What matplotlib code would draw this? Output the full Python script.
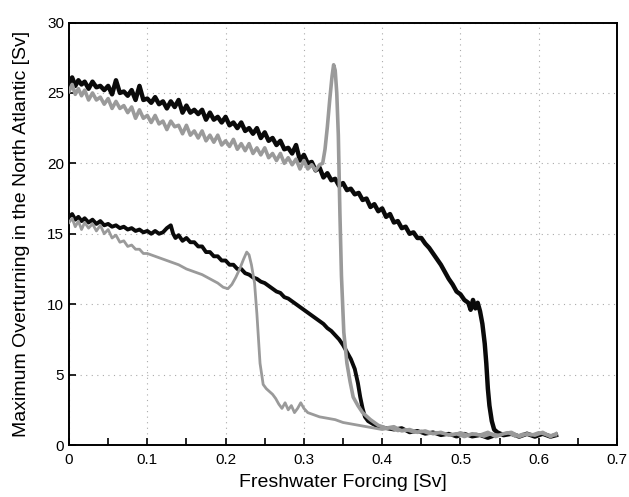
import matplotlib
matplotlib.use("Agg")
import matplotlib.pyplot as plt
from matplotlib.ticker import MultipleLocator

plt.rcParams['font.family'] = ['Liberation Sans', 'DejaVu Sans']

# ---- data ----
bu_x = [0.000, 0.004, 0.008, 0.012, 0.016, 0.020, 0.025, 0.030, 0.035, 0.040, 0.045, 0.050, 0.055, 0.060,
        0.065, 0.070, 0.075, 0.080, 0.085, 0.090, 0.095, 0.100, 0.105, 0.110, 0.115, 0.120, 0.125, 0.130,
        0.135, 0.140, 0.145, 0.150, 0.155, 0.160, 0.165, 0.170, 0.175, 0.180, 0.185, 0.190, 0.195, 0.200,
        0.205, 0.210, 0.215, 0.220, 0.225, 0.230, 0.235, 0.240, 0.245, 0.250, 0.255, 0.260, 0.265, 0.270,
        0.275, 0.280, 0.285, 0.290, 0.295, 0.300, 0.305, 0.310, 0.315, 0.320, 0.325, 0.330, 0.335, 0.340,
        0.345, 0.350, 0.355, 0.360, 0.365, 0.370, 0.375, 0.380, 0.385, 0.390, 0.395, 0.400, 0.405, 0.410,
        0.415, 0.420, 0.425, 0.430, 0.435, 0.440, 0.445, 0.450, 0.455, 0.460, 0.465, 0.470, 0.475, 0.480,
        0.485, 0.490, 0.495, 0.500, 0.505, 0.510, 0.513, 0.516, 0.519, 0.522, 0.525, 0.528, 0.531, 0.533,
        0.535, 0.537, 0.540, 0.543, 0.547, 0.555, 0.565, 0.575, 0.585, 0.595, 0.605, 0.615, 0.622]
bu_y = [25.7, 26.1, 25.5, 25.9, 25.6, 25.8, 25.3, 25.8, 25.4, 25.5, 25.2, 25.5, 24.9, 25.9,
        25.0, 25.1, 24.8, 25.2, 24.5, 25.5, 24.5, 24.6, 24.3, 24.7, 24.2, 24.4, 23.9, 24.4,
        24.0, 24.5, 23.6, 24.1, 23.6, 23.8, 23.5, 23.8, 23.1, 23.6, 23.1, 23.3, 22.9, 23.3,
        22.7, 22.9, 22.5, 22.9, 22.3, 22.5, 22.1, 22.5, 21.8, 22.2, 21.6, 21.8, 21.3, 21.6,
        21.0, 21.1, 20.7, 21.3, 20.2, 20.6, 20.0, 20.1, 19.5, 19.7, 19.0, 19.3, 18.8, 18.9,
        18.4, 18.6, 18.1, 18.2, 17.8, 17.9, 17.4, 17.5, 16.9, 17.1, 16.6, 16.8, 16.2, 16.4,
        15.8, 15.9, 15.4, 15.5, 15.0, 15.1, 14.7, 14.7, 14.3, 14.0, 13.6, 13.2, 12.8, 12.3,
        11.8, 11.4, 10.9, 10.7, 10.3, 10.1, 9.6, 10.3, 9.7, 10.1, 9.5, 8.6, 7.2, 5.8,
        4.0, 2.8, 1.7, 1.1, 0.9, 0.7, 0.8, 0.6, 0.8, 0.6, 0.8, 0.6, 0.7]

gu_x = [0.000, 0.004, 0.008, 0.012, 0.016, 0.020, 0.025, 0.030, 0.035, 0.040, 0.045, 0.050, 0.055, 0.060,
        0.065, 0.070, 0.075, 0.080, 0.085, 0.090, 0.095, 0.100, 0.105, 0.110, 0.115, 0.120, 0.125, 0.130,
        0.135, 0.140, 0.145, 0.150, 0.155, 0.160, 0.165, 0.170, 0.175, 0.180, 0.185, 0.190, 0.195, 0.200,
        0.205, 0.210, 0.215, 0.220, 0.225, 0.230, 0.235, 0.240, 0.245, 0.250, 0.255, 0.260, 0.265, 0.270,
        0.275, 0.280, 0.285, 0.290, 0.295, 0.300, 0.305, 0.310, 0.315, 0.320, 0.324, 0.327, 0.330, 0.333,
        0.336, 0.338, 0.340, 0.342, 0.344, 0.346, 0.348, 0.351, 0.355, 0.359, 0.363, 0.369, 0.375, 0.385,
        0.395, 0.405, 0.415, 0.425, 0.435, 0.445, 0.455, 0.465, 0.475, 0.485, 0.495, 0.505, 0.515, 0.525,
        0.535, 0.545, 0.555, 0.565, 0.575, 0.585, 0.595, 0.605, 0.615, 0.622]
gu_y = [25.1, 25.6, 24.9, 25.3, 24.8, 25.2, 24.5, 25.0, 24.5, 24.7, 24.2, 24.6, 23.9, 24.4,
        23.9, 24.1, 23.6, 24.0, 23.2, 23.8, 23.2, 23.4, 22.9, 23.4, 22.8, 23.0, 22.4, 23.0,
        22.6, 22.7, 22.1, 22.7, 22.0, 22.3, 21.8, 22.3, 21.6, 22.0, 21.5, 22.0, 21.3, 21.6,
        21.2, 21.7, 21.0, 21.4, 20.9, 21.4, 20.7, 21.1, 20.6, 21.1, 20.4, 20.7, 20.2, 20.7,
        20.0, 20.4, 19.9, 20.3, 19.6, 20.2, 19.6, 19.9, 19.5, 19.9, 20.0, 21.0, 22.6, 24.5,
        26.2, 27.0, 26.6, 25.0, 22.0, 16.5, 12.0, 8.0, 5.8, 4.5, 3.4, 2.8, 2.3, 1.8,
        1.4, 1.2, 1.3, 1.0, 1.1, 0.9, 1.0, 0.8, 0.9, 0.7, 0.8, 0.6, 0.8, 0.7,
        0.9, 0.6, 0.8, 0.9, 0.6, 0.8, 0.7, 0.9, 0.6, 0.8]

bl_x = [0.000, 0.004, 0.008, 0.012, 0.016, 0.020, 0.025, 0.030, 0.035, 0.040, 0.045, 0.050, 0.055, 0.060,
        0.065, 0.070, 0.075, 0.080, 0.085, 0.090, 0.095, 0.100, 0.105, 0.110, 0.115, 0.120, 0.125, 0.130,
        0.133, 0.136, 0.140, 0.145, 0.150, 0.155, 0.160, 0.165, 0.170, 0.175, 0.180, 0.185, 0.190, 0.195,
        0.200, 0.205, 0.210, 0.215, 0.220, 0.225, 0.230, 0.235, 0.240, 0.245, 0.250, 0.255, 0.260, 0.265,
        0.270, 0.275, 0.280, 0.285, 0.290, 0.295, 0.300, 0.305, 0.310, 0.315, 0.320, 0.325, 0.330, 0.335,
        0.340, 0.345, 0.350, 0.355, 0.360, 0.365, 0.369, 0.372, 0.375, 0.378, 0.382, 0.388, 0.395, 0.405,
        0.415, 0.425, 0.435, 0.445, 0.455, 0.465, 0.475, 0.485, 0.495, 0.505, 0.515, 0.525, 0.535, 0.545]
bl_y = [16.2, 16.4, 16.0, 16.2, 15.9, 16.1, 15.8, 16.0, 15.7, 15.9, 15.6, 15.7, 15.5, 15.6,
        15.4, 15.5, 15.3, 15.4, 15.2, 15.3, 15.1, 15.2, 15.0, 15.2, 15.0, 15.1, 15.4, 15.6,
        15.0, 14.7, 14.9, 14.5, 14.7, 14.4, 14.4, 14.1, 14.1, 13.7, 13.7, 13.4, 13.4, 13.1,
        13.1, 12.8, 12.8, 12.5, 12.5, 12.2, 12.1, 11.9, 11.8, 11.6, 11.5, 11.3, 11.1, 10.9,
        10.8, 10.5, 10.4, 10.2, 10.0, 9.8, 9.6, 9.4, 9.2, 9.0, 8.8, 8.6, 8.3, 8.1,
        7.8, 7.5, 7.1, 6.6, 6.1, 5.4, 4.4, 3.4, 2.6, 2.0, 1.7, 1.5, 1.3, 1.2,
        1.1, 1.2, 0.9, 1.0, 0.8, 0.9, 0.7, 0.8, 0.6, 0.8, 0.6, 0.7, 0.5, 0.7]

gl_x = [0.000, 0.004, 0.008, 0.012, 0.016, 0.020, 0.025, 0.030, 0.035, 0.040, 0.045, 0.050, 0.055, 0.060,
        0.065, 0.070, 0.075, 0.080, 0.085, 0.090, 0.095, 0.100, 0.110, 0.120, 0.130, 0.140, 0.150, 0.160,
        0.170, 0.180, 0.190, 0.197, 0.203, 0.208, 0.213, 0.218, 0.223, 0.227, 0.230, 0.233, 0.237, 0.240,
        0.244, 0.248, 0.252, 0.256, 0.260, 0.264, 0.268, 0.272, 0.276, 0.280, 0.284, 0.288, 0.292, 0.296,
        0.300, 0.305, 0.310, 0.320, 0.330, 0.340, 0.350, 0.360, 0.370, 0.380, 0.390, 0.400, 0.410, 0.420,
        0.430, 0.440, 0.450, 0.460, 0.470, 0.480, 0.490, 0.500, 0.510, 0.520, 0.530, 0.540, 0.550, 0.560,
        0.570, 0.580, 0.590, 0.600, 0.610, 0.622]
gl_y = [15.8, 16.1, 15.5, 15.9, 15.3, 15.8, 15.4, 15.7, 15.2, 15.6, 15.0, 15.3, 14.7, 14.9,
        14.4, 14.5, 14.1, 14.2, 13.9, 13.9, 13.6, 13.6, 13.4, 13.2, 13.0, 12.8, 12.5, 12.3,
        12.1, 11.8, 11.5, 11.2, 11.1, 11.4, 11.9, 12.5, 13.2, 13.7, 13.5, 12.8, 11.5, 9.3,
        5.8, 4.3, 4.0, 3.8, 3.6, 3.3, 2.9, 2.6, 3.0, 2.5, 2.8, 2.3, 2.6, 3.0,
        2.6, 2.3, 2.2, 2.0, 1.9, 1.8, 1.6, 1.5, 1.4, 1.3, 1.2, 1.1, 1.2, 1.0,
        1.1, 0.9, 1.0, 0.8, 0.9, 0.8, 0.7, 0.9, 0.7, 0.8, 0.6, 0.8, 0.7, 0.9,
        0.6, 0.8, 0.7, 0.9, 0.7, 0.7]

x_ticks = [0, 0.1, 0.2, 0.3, 0.4, 0.5, 0.6, 0.7]
x_tick_labels = ['0', '0.1', '0.2', '0.3', '0.4', '0.5', '0.6', '0.7']
y_ticks = [0, 5, 10, 15, 20, 25, 30]

# ---- figure ----
fig = plt.figure(figsize=(6.29, 4.97), dpi=100)
ax = fig.add_axes([0.1097, 0.1046, 0.8713, 0.8501])

black = '#0a0a0a'
gray = '#9a9a9a'
ax.plot(bu_x, bu_y, color=black, lw=3.2, solid_joinstyle='round', zorder=3)
ax.plot(bl_x, bl_y, color=black, lw=2.8, solid_joinstyle='round', zorder=3)
ax.plot(gu_x, gu_y, color=gray, lw=2.6, solid_joinstyle='round', zorder=4)
ax.plot(gl_x, gl_y, color=gray, lw=2.0, solid_joinstyle='round', zorder=4)

ax.set_xlim(0, 0.7)
ax.set_ylim(0, 30)
ax.set_xticks(x_ticks)
ax.set_xticklabels(x_tick_labels)
ax.set_yticks(y_ticks)
ax.xaxis.set_minor_locator(MultipleLocator(0.05))
ax.tick_params(axis='both', which='both', direction='in', length=5, width=1.2,
               labelsize=11, top=False, right=False)
ax.tick_params(axis='x', pad=6)
ax.grid(True, which='major', color='#aaaaaa', linestyle=(0, (1, 4)), linewidth=0.8)
for s in ax.spines.values():
    s.set_linewidth(1.4)

ax.set_xlabel('Freshwater Forcing [Sv]', fontsize=14, labelpad=5)
ax.set_ylabel('Maximum Overturning in the North Atlantic [Sv]', fontsize=14, labelpad=12)

fig.savefig('out.png', dpi=100)
